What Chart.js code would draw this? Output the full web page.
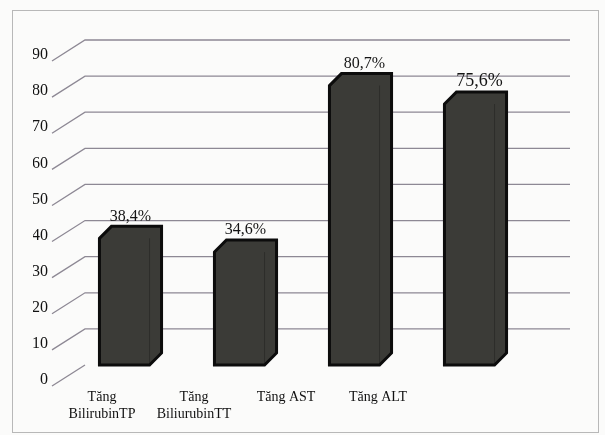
<!DOCTYPE html>
<html>
<head>
<meta charset="utf-8">
<script src="https://cdn.jsdelivr.net/npm/chart.js@4"></script>
<style>
  html, body { margin: 0; padding: 0; background: #fbfbfa; }
  #wrap { position: relative; width: 605px; height: 435px; }
  #frame { position: absolute; left: 12px; top: 10px; width: 585px; height: 421px;
           border: 1px solid #b8b8b8; pointer-events: none; }
  canvas { position: absolute; left: 0; top: 0; }
</style>
</head>
<body>
<div id="wrap">
  <canvas id="c" width="605" height="435"></canvas>
  <div id="frame"></div>
</div>
<script>
const categories = ['Tăng BilirubinTP', 'Tăng BiliurubinTT', 'Tăng AST', 'Tăng ALT'];
const axisLabels = [['Tăng', 'BilirubinTP'], ['Tăng', 'BiliurubinTT'], 'Tăng AST', 'Tăng ALT', ''];
const values = [38.4, 34.6, 80.7, 75.6];
const valueLabels = ['38,4%', '34,6%', '80,7%', '75,6%'];
const yTicks = [0, 10, 20, 30, 40, 50, 60, 70, 80, 90];

const SERIF = '"Liberation Serif", "DejaVu Serif", serif';
const GRID_COLOR = '#8d8894';
const LABEL_OFFSET = 15;

const wallPlugin = {
  id: 'wall',
  beforeDatasetsDraw(chart) {
    const ctx = chart.ctx, a = chart.chartArea, y = chart.scales.y;
    ctx.save();
    ctx.strokeStyle = GRID_COLOR;
    ctx.lineWidth = 1.3;
    yTicks.forEach(v => {
      const p = y.getPixelForValue(v);
      ctx.beginPath();
      ctx.moveTo(a.left - 21, p + LABEL_OFFSET + 6);
      ctx.lineTo(a.left + 12, p);
      if (v !== 0) ctx.lineTo(a.right + 37, p);
      ctx.stroke();
    });
    ctx.restore();
  }
};

const barPlugin = {
  id: 'bars3d',
  beforeDatasetDraw(chart, args) {
    const ctx = chart.ctx;
    const meta = args.meta;
    ctx.save();
    meta.data.forEach((bar, i) => {
      const w = bar.width, l = bar.x - w / 2, r = bar.x + w / 2;
      const t = bar.y, b = bar.base, d = 12;
      ctx.beginPath();
      ctx.moveTo(l, t + d);
      ctx.lineTo(l + d, t);
      ctx.lineTo(r, t);
      ctx.lineTo(r, b - d);
      ctx.lineTo(r - d, b);
      ctx.lineTo(l, b);
      ctx.closePath();
      ctx.fillStyle = '#3b3b37';
      ctx.fill();
      ctx.lineWidth = 3;
      ctx.strokeStyle = '#0c0c0c';
      ctx.lineJoin = 'miter';
      ctx.stroke();
      ctx.beginPath();
      ctx.moveTo(r - d, t + d);
      ctx.lineTo(r - d, b);
      ctx.lineWidth = 1;
      ctx.strokeStyle = 'rgba(20,20,20,0.35)';
      ctx.stroke();
      ctx.fillStyle = '#151515';
      ctx.font = (i === 3 ? '18px ' : '16px ') + SERIF;
      ctx.textAlign = 'center';
      ctx.textBaseline = 'bottom';
      ctx.fillText(valueLabels[i], bar.x + (i >= 2 ? 4 : 0), t - 2);
    });
    ctx.restore();
    return false;
  }
};

new Chart(document.getElementById('c'), {
  type: 'bar',
  data: {
    labels: categories,
    datasets: [{
      data: values,
      backgroundColor: '#3b3b37',
      borderColor: '#0c0c0c',
      borderWidth: 3,
      categoryPercentage: 1,
      barPercentage: 0.54
    }]
  },
  options: {
    responsive: false,
    animation: false,
    layout: { autoPadding: false, padding: { left: 33, right: 72, top: 40, bottom: 10 } },
    plugins: { legend: { display: false }, tooltip: { enabled: false } },
    scales: {
      x: { display: false },
      xl: {
        type: 'category',
        position: 'bottom',
        labels: axisLabels,
        afterFit(scale) { scale.height = 60; },
        grid: { display: false, drawTicks: false },
        border: { display: false },
        ticks: {
          padding: 24,
          labelOffset: -17,
          maxRotation: 0,
          autoSkip: false,
          color: '#111',
          font: { family: SERIF, size: 14 }
        }
      },
      y: {
        min: 0,
        max: 90,
        afterFit(scale) { scale.width = 40; },
        grid: { display: false, drawTicks: false },
        border: { display: false },
        ticks: {
          stepSize: 10,
          padding: 25,
          labelOffset: LABEL_OFFSET,
          color: '#111',
          font: { family: SERIF, size: 16 }
        }
      }
    }
  },
  plugins: [wallPlugin, barPlugin]
});
</script>
</body>
</html>
